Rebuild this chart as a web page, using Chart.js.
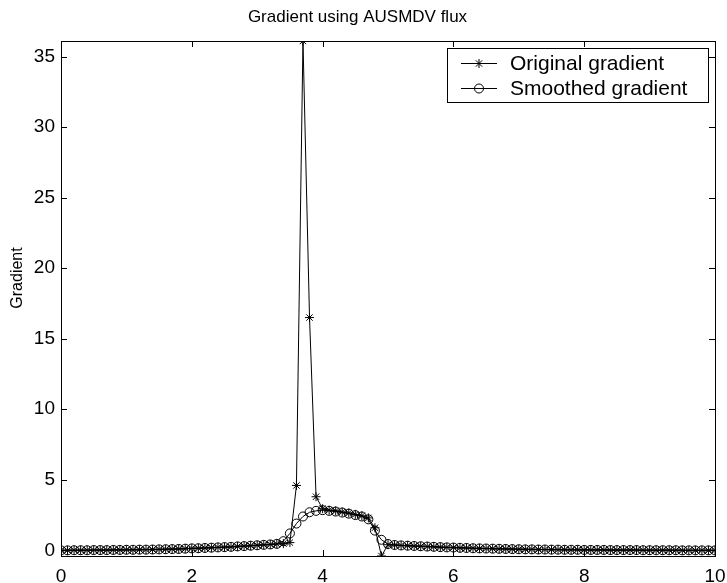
<!DOCTYPE html>
<html>
<head>
<meta charset="utf-8">
<script src="https://cdn.jsdelivr.net/npm/chart.js@4.4.1/dist/chart.umd.min.js"></script>
<style>
  body { margin: 0; background: #fff; }
  canvas { display: block; }
</style>
</head>
<body>
<canvas id="grad" width="727" height="583"></canvas>
<script>
"use strict";

// x positions of the samples
const xs = [
  0.0, 0.1, 0.2, 0.3, 0.4, 0.5, 0.6, 0.7, 0.8, 0.9,
  1.0, 1.1, 1.2, 1.3, 1.4, 1.5, 1.6, 1.7, 1.8, 1.9,
  2.0, 2.1, 2.2, 2.3, 2.4, 2.5, 2.6, 2.7, 2.8, 2.9,
  3.0, 3.1, 3.2, 3.3, 3.4, 3.5, 3.6, 3.7, 3.8, 3.9,
  4.0, 4.1, 4.2, 4.3, 4.4, 4.5, 4.6, 4.7, 4.8, 4.9,
  5.0, 5.1, 5.2, 5.3, 5.4, 5.5, 5.6, 5.7, 5.8, 5.9,
  6.0, 6.1, 6.2, 6.3, 6.4, 6.5, 6.6, 6.7, 6.8, 6.9,
  7.0, 7.1, 7.2, 7.3, 7.4, 7.5, 7.6, 7.7, 7.8, 7.9,
  8.0, 8.1, 8.2, 8.3, 8.4, 8.5, 8.6, 8.7, 8.8, 8.9,
  9.0, 9.1, 9.2, 9.3, 9.4, 9.5, 9.6, 9.7, 9.8, 9.9,
  10.0
];

const original = [
  0.00, 0.00, 0.01, 0.01, 0.01, 0.02, 0.02, 0.02, 0.03, 0.03,
  0.04, 0.04, 0.05, 0.05, 0.06, 0.07, 0.08, 0.09, 0.10, 0.12,
  0.14, 0.15, 0.17, 0.19, 0.21, 0.23, 0.25, 0.28, 0.30, 0.33,
  0.36, 0.39, 0.42, 0.45, 0.48, 0.55, 4.60, 36.10, 16.50, 3.80,
  2.95, 2.85, 2.80, 2.72, 2.65, 2.55, 2.45, 2.30, 1.60, -0.40,
  0.40, 0.38, 0.35, 0.33, 0.31, 0.29, 0.27, 0.25, 0.23, 0.21,
  0.20, 0.18, 0.17, 0.15, 0.14, 0.13, 0.12, 0.11, 0.10, 0.09,
  0.08, 0.07, 0.07, 0.06, 0.06, 0.05, 0.05, 0.04, 0.04, 0.04,
  0.03, 0.03, 0.03, 0.03, 0.02, 0.02, 0.02, 0.02, 0.02, 0.01,
  0.01, 0.01, 0.01, 0.01, 0.01, 0.00, 0.00, 0.00, 0.00, 0.00,
  0.00
];

const smoothed = [
  0.00, 0.00, 0.01, 0.01, 0.01, 0.02, 0.02, 0.02, 0.03, 0.03,
  0.04, 0.04, 0.05, 0.05, 0.06, 0.07, 0.08, 0.09, 0.10, 0.12,
  0.14, 0.15, 0.17, 0.19, 0.21, 0.23, 0.25, 0.28, 0.30, 0.33,
  0.36, 0.39, 0.42, 0.46, 0.65, 1.20, 1.90, 2.40, 2.70, 2.80,
  2.85, 2.80, 2.75, 2.68, 2.60, 2.50, 2.40, 2.20, 1.40, 0.75,
  0.45, 0.38, 0.35, 0.33, 0.31, 0.29, 0.27, 0.25, 0.23, 0.21,
  0.20, 0.18, 0.17, 0.15, 0.14, 0.13, 0.12, 0.11, 0.10, 0.09,
  0.08, 0.07, 0.07, 0.06, 0.06, 0.05, 0.05, 0.04, 0.04, 0.04,
  0.03, 0.03, 0.03, 0.03, 0.02, 0.02, 0.02, 0.02, 0.02, 0.01,
  0.01, 0.01, 0.01, 0.01, 0.01, 0.00, 0.00, 0.00, 0.00, 0.00,
  0.00
];

const xTicks = [0, 2, 4, 6, 8, 10];
const yTicks = [0, 5, 10, 15, 20, 25, 30, 35];
const seriesNames = ["Original gradient", "Smoothed gradient"];
const yLabel = "Gradient";

const FONT = "'Liberation Sans', Arial, Helvetica, sans-serif";

function toPoints(ys) {
  return xs.map((x, i) => ({ x: x, y: ys[i] }));
}

// box around the axes + ticks pointing inwards (matlab style), plus y label
const boxPlugin = {
  id: "box",
  afterDatasetsDraw(chart) {
    const ctx = chart.ctx;
    const a = chart.chartArea;
    const sx = chart.scales.x, sy = chart.scales.y;
    ctx.save();
    ctx.strokeStyle = "#000";
    ctx.lineWidth = 1;
    ctx.strokeRect(Math.round(a.left) + 0.5, Math.round(a.top) + 0.5,
                   Math.round(a.right - a.left), Math.round(a.bottom - a.top));
    ctx.beginPath();
    sx.ticks.forEach(t => {
      const px = Math.round(sx.getPixelForValue(t.value)) + 0.5;
      ctx.moveTo(px, a.bottom); ctx.lineTo(px, a.bottom - 6);
      ctx.moveTo(px, a.top); ctx.lineTo(px, a.top + 6);
    });
    sy.ticks.forEach(t => {
      const py = Math.round(sy.getPixelForValue(t.value)) + 0.5;
      ctx.moveTo(a.left, py); ctx.lineTo(a.left + 6, py);
      ctx.moveTo(a.right, py); ctx.lineTo(a.right - 6, py);
    });
    ctx.stroke();

    // y axis label
    ctx.translate(18, 278);
    ctx.rotate(-Math.PI / 2);
    ctx.fillStyle = "#000";
    ctx.font = "16px " + FONT;
    ctx.textAlign = "center";
    ctx.textBaseline = "middle";
    ctx.fillText(yLabel, 0, 0);
    ctx.restore();
  }
};

// legend box in the upper right corner
const legendPlugin = {
  id: "boxLegend",
  afterDraw(chart) {
    const ctx = chart.ctx;
    const bx = 447, by = 48, bw = 261, bh = 54;
    ctx.save();
    ctx.fillStyle = "#fff";
    ctx.fillRect(bx, by, bw, bh);
    ctx.strokeStyle = "#000";
    ctx.lineWidth = 1;
    ctx.strokeRect(bx + 0.5, by + 0.5, bw, bh);
    chart.data.datasets.forEach((ds, i) => {
      const cy = by + 15 + i * 25;
      ctx.beginPath();
      ctx.moveTo(bx + 14, cy + 0.5);
      ctx.lineTo(bx + 50, cy + 0.5);
      ctx.stroke();
      ctx.fillStyle = "rgba(0,0,0,0)";
      Chart.helpers.drawPoint(ctx, {
        pointStyle: ds.pointStyle, radius: ds.pointRadius,
        rotation: 0, borderWidth: 1
      }, bx + 32, cy + 0.5);
      ctx.fillStyle = "#000";
      ctx.font = "21px " + FONT;
      ctx.textBaseline = "middle";
      ctx.fillText(ds.label, bx + 63, cy + 1);
    });
    ctx.restore();
  }
};

new Chart(document.getElementById("grad"), {
  type: "line",
  data: {
    datasets: [
      {
        label: seriesNames[0],
        data: toPoints(original),
        borderColor: "#000",
        borderWidth: 1,
        pointStyle: "star",
        pointRadius: 4.5,
        pointBorderColor: "#000",
        pointBorderWidth: 1,
        pointBackgroundColor: "transparent",
        tension: 0
      },
      {
        label: seriesNames[1],
        data: toPoints(smoothed),
        borderColor: "#000",
        borderWidth: 1,
        pointStyle: "circle",
        pointRadius: 4.5,
        pointBorderColor: "#000",
        pointBorderWidth: 1,
        pointBackgroundColor: "transparent",
        tension: 0
      }
    ]
  },
  options: {
    responsive: false,
    animation: false,
    events: [],
    layout: { padding: { left: 0, right: 12, top: 0, bottom: 0 } },
    plugins: {
      legend: { display: false },
      tooltip: { enabled: false },
      title: {
        display: true,
        text: "Gradient using AUSMDV flux",
        color: "#000",
        font: { family: FONT, size: 17, weight: "normal", lineHeight: 1.2 },
        padding: { top: 7, bottom: 13.6 }
      }
    },
    scales: {
      x: {
        type: "linear",
        min: 0,
        max: 10,
        grid: { display: false, drawTicks: false },
        border: { display: false },
        afterBuildTicks: s => { s.ticks = xTicks.map(v => ({ value: v })); },
        afterFit: s => { s.height = 27; s.paddingLeft = 0; s.paddingRight = 0; },
        ticks: {
          color: "#000",
          padding: 9,
          maxRotation: 0,
          font: { family: FONT, size: 19 }
        }
      },
      y: {
        type: "linear",
        min: -0.4,
        max: 36.1,
        grid: { display: false, drawTicks: false },
        border: { display: false },
        afterBuildTicks: s => { s.ticks = yTicks.map(v => ({ value: v })); },
        afterFit: s => { s.width = 61; s.paddingTop = 0; s.paddingBottom = 0; },
        ticks: {
          color: "#000",
          padding: 6,
          font: { family: FONT, size: 19 }
        }
      }
    }
  },
  plugins: [boxPlugin, legendPlugin]
});
</script>
</body>
</html>
